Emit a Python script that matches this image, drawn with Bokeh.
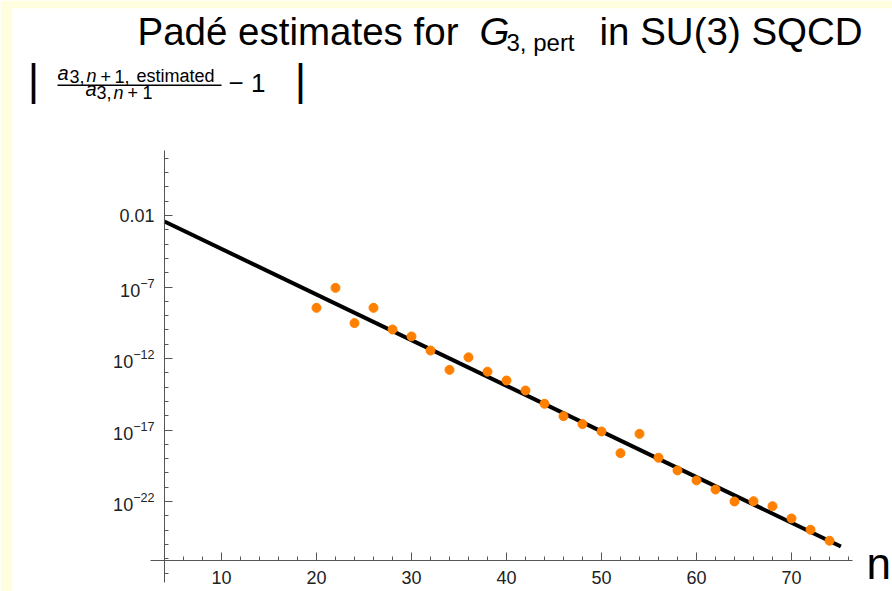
from bokeh.plotting import figure
from bokeh.models import (Range1d, LinearScale, FixedTicker, LogTickFormatter,
                          Label, BoxAnnotation)
from bokeh.embed import file_html
from bokeh.resources import INLINE

# ---------------- data ----------------
n_values = [20, 22, 24, 26, 28, 30, 32, 34, 36, 38, 40, 42, 44, 46,
            48, 50, 52, 54, 56, 58, 60, 62, 64, 66, 68, 70, 72, 74]
ratio_error = [3.5e-9, 8.7e-8, 3.0e-10, 3.5e-9, 1.07e-10, 3.5e-11, 3.6e-12,
               1.6e-13, 1.2e-12, 1.2e-13, 2.9e-14, 5.8e-15, 6.8e-16, 9.3e-17,
               2.6e-17, 7.9e-18, 2.4e-19, 5.4e-18, 1.15e-19, 1.5e-20, 3.0e-21,
               6.9e-22, 1.0e-22, 1.05e-22, 4.7e-23, 6.5e-24, 1.05e-24, 1.8e-25]
fit_n = [4, 75.2]
fit_error = [3.8e-3, 7.1e-26]

x_major_ticks = [10, 20, 30, 40, 50, 60, 70]
x_minor_ticks = [4, 6, 8, 12, 14, 16, 18, 22, 24, 26, 28, 32, 34, 36, 38, 42, 44,
                 46, 48, 52, 54, 56, 58, 62, 64, 66, 68, 72, 74, 76]
y_major_ticks = [1e-2, 1e-7, 1e-12, 1e-17, 1e-22]
y_minor_ticks = [1e2, 1e1, 1e0, 1e-1, 1e-3, 1e-4, 1e-5, 1e-6, 1e-8, 1e-9, 1e-10,
                 1e-11, 1e-13, 1e-14, 1e-15, 1e-16, 1e-18, 1e-19, 1e-20, 1e-21,
                 1e-23, 1e-24, 1e-25, 1e-26, 1e-27]

FONT = "Liberation Sans"
AXIS_COLOR = "#555555"
PAGE_BG = "#FFFFE0"

# ---------------- layout geometry (pixels) ----------------
W, H = 892, 591
LEFT, TOP = 12, 8                     # yellow strips
PX_PER_N = 9.5                        # horizontal pixels per unit of n
N10_X = 221.0                         # pixel of n = 10
PX_PER_DEC = 14.3                     # vertical pixels per decade
EM2_Y = 215.0                         # pixel of 10^-2
MID = 0.3465                          # baseline offset of "middle" (em)


def n_at(px):
    return 10 + (px - N10_X) / PX_PER_N


def y_at(py):
    return 10 ** (-2 - (py - EM2_Y) / PX_PER_DEC)


p = figure(width=W, height=H,
           x_range=Range1d(n_at(LEFT), n_at(W)),
           y_range=Range1d(y_at(H), y_at(TOP)),
           y_axis_type="log", output_backend="svg", toolbar_location=None,
           min_border_left=LEFT, min_border_right=0, min_border_top=TOP,
           min_border_bottom=0, background_fill_color="white",
           border_fill_color=PAGE_BG, outline_line_color=None)
p.grid.visible = False

# pixel-coordinate helper ranges for text placement
p.extra_x_ranges = {"px": Range1d(LEFT, W)}
p.extra_y_ranges = {"py": Range1d(H, TOP)}
p.extra_x_scales = {"px": LinearScale()}
p.extra_y_scales = {"py": LinearScale()}

xa = p.xaxis[0]
ya = p.yaxis[0]
xa.fixed_location = y_at(560)
ya.fixed_location = 4
xa.bounds = (n_at(150), n_at(852))
ya.bounds = (y_at(582), y_at(150))
xa.ticker = FixedTicker(ticks=x_major_ticks, minor_ticks=x_minor_ticks)
ya.ticker = FixedTicker(ticks=y_major_ticks, minor_ticks=y_minor_ticks)
ya.formatter = LogTickFormatter(min_exponent=3)
for ax in (xa, ya):
    ax.axis_line_color = AXIS_COLOR
    ax.major_tick_line_color = AXIS_COLOR
    ax.minor_tick_line_color = AXIS_COLOR
    ax.major_tick_in = 8
    ax.major_tick_out = 0
    ax.minor_tick_in = 4
    ax.minor_tick_out = 0
    ax.major_label_text_font = FONT
    ax.major_label_text_font_size = "18px"
    ax.major_label_text_color = "#222222"
    ax.major_label_standoff = 10

p.line(fit_n, fit_error, line_color="black", line_width=4)
p.scatter(n_values, ratio_error, size=9, fill_color="#FF8000",
          line_color="#FF8000")


def txt(x, base, s, size, italic=False, align="left"):
    """Place text so that its alphabetic baseline lies at pixel row `base`."""
    p.add_layout(Label(x=x, y=base - MID * size, text=s,
                       x_range_name="px", y_range_name="py",
                       text_font=FONT, text_font_size=f"{size}px",
                       text_font_style="italic" if italic else "normal",
                       text_align=align, text_baseline="middle",
                       text_color="#000000"))


# title
txt(137, 44, "Padé estimates for", 38.5)
txt(479, 44, "G", 38.5, italic=True)
txt(506, 50, "3, pert", 24)
txt(599, 44, "in SU(3) SQCD", 38.5)

# y-axis label  | a_{3,n+1, estimated} / a_{3,n+1} - 1 |
txt(33, 94, "|", 44, align="center")
txt(300, 94, "|", 44, align="center")
txt(57, 79, "a", 20, italic=True)
txt(69, 82, "3,", 18)
txt(86, 82, "n", 18, italic=True)
txt(100, 82, "+", 18)
txt(114, 82, "1,", 18)
txt(136, 82, "estimated", 18)
p.add_layout(BoxAnnotation(left=57, right=221, bottom=85.5, top=84,
                           x_range_name="px", y_range_name="py",
                           fill_color="black", fill_alpha=1.0,
                           line_color=None))
txt(85, 95, "a", 20, italic=True)
txt(96, 98.5, "3,", 18)
txt(113, 98.5, "n", 18, italic=True)
txt(127, 98.5, "+", 18)
txt(142, 98.5, "1", 18)
txt(228, 92, "\u2212 1", 26)

# x-axis label
txt(866, 578, "n", 44)

open("out.html", "w", encoding="utf-8").write(file_html(p, INLINE, title="Padé estimates"))
